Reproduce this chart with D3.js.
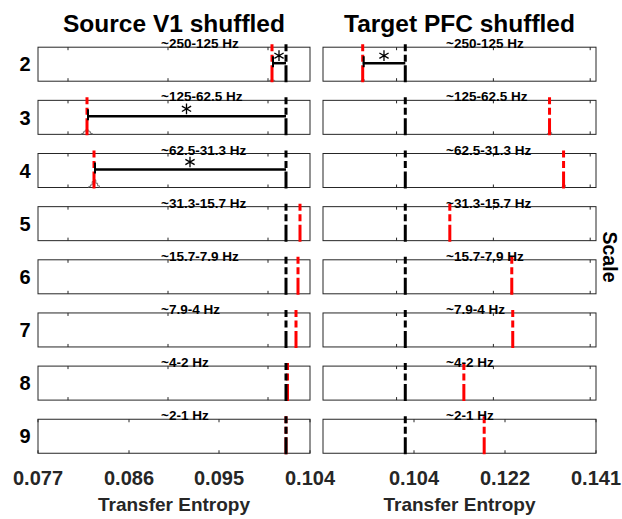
<!DOCTYPE html>
<html>
<head>
<meta charset="utf-8">
<script src="https://cdn.jsdelivr.net/npm/d3@7"></script>
<style>
  html, body { margin: 0; padding: 0; background: #fff; }
  svg { display: block; font-family: "Liberation Sans", Arial, sans-serif; }
</style>
</head>
<body>
<svg id="chart" width="622" height="519"></svg>
<script>
// ---------------- data ----------------
const scales = [2, 3, 4, 5, 6, 7, 8, 9];
const bands = ["~250-125 Hz", "~125-62.5 Hz", "~62.5-31.3 Hz", "~31.3-15.7 Hz",
               "~15.7-7.9 Hz", "~7.9-4 Hz", "~4-2 Hz", "~2-1 Hz"];
const columnTitles = ["Source V1 shuffled", "Target PFC shuffled"];
const observedTE = [0.1018, 0.1018];
const sourceShuffledMean = [0.1004, 0.0819, 0.0826, 0.1032, 0.1030, 0.1028, 0.10195, 0.1018];
const targetShuffledMean = [0.0930, 0.1316, 0.1345, 0.1110, 0.1238, 0.1240, 0.1139, 0.1181];
const sourceSignificant = [true, true, true, false, false, false, false, false];
const targetSignificant = [true, false, false, false, false, false, false, false];
// tiny shuffled distributions (counts per bin) drawn at panel bottom
const sourceHist = [[1, 2, 1], [1, 3, 5, 5, 3, 1], [1, 3, 7, 9, 5, 2], null, null, null, null, null];
const targetHist = [[1, 3, 2], [1, 4, 5, 2], [1, 4, 3], null, [1, 3, 1], null, null, null];
const histBinWidth = [0.00018, 0.00022];
const histMaxCount = 40;
const xDomains = [[0.077, 0.1042], [0.0848, 0.1412]];
const topTicks = [[0.08, 0.09, 0.10], [0.10, 0.12, 0.14]];
const bottomTicks = [[0.077, 0.0861, 0.0951, 0.1042], [0.1036, 0.1224, 0.1412]];
const bottomTickLabels = [["0.077", "0.086", "0.095", "0.104"], ["0.104", "0.122", "0.141"]];
const xAxisLabel = "Transfer Entropy";
const yAxisLabel = "Scale";

// ---------------- layout ----------------
const svg = d3.select("#chart");
const colRanges = [[38, 310], [323, 596]];
const panelTop0 = 47.2, panelPitch = 53.15, panelH = 34;
const RED = "#ff0000", AX = "#262626";

const yBand = i => panelTop0 + i * panelPitch;

const columns = [
  { shuffled: sourceShuffledMean, sig: sourceSignificant, hist: sourceHist },
  { shuffled: targetShuffledMean, sig: targetSignificant, hist: targetHist }
];

columns.forEach((col, c) => {
  const x = d3.scaleLinear().domain(xDomains[c]).range(colRanges[c]);
  const hy = d3.scaleLinear().domain([0, histMaxCount]).range([0, panelH]);
  const g = svg.append("g");

  // column title
  g.append("text")
    .attr("x", (colRanges[c][0] + colRanges[c][1]) / 2)
    .attr("y", 31.5)
    .attr("text-anchor", "middle")
    .attr("font-size", 24.5).attr("font-weight", "bold").attr("fill", "#000")
    .text(columnTitles[c]);

  scales.forEach((s, i) => {
    const top = yBand(i), bot = top + panelH;
    const p = g.append("g");
    const isLast = i === scales.length - 1;
    const ticks = isLast ? bottomTicks[c] : topTicks[c];

    // panel box
    p.append("rect")
      .attr("x", colRanges[c][0]).attr("y", top)
      .attr("width", colRanges[c][1] - colRanges[c][0]).attr("height", panelH)
      .attr("fill", "#fff").attr("stroke", AX).attr("stroke-width", 1);

    // inward ticks top & bottom
    ticks.forEach(t => {
      const xx = x(t);
      p.append("line").attr("x1", xx).attr("x2", xx).attr("y1", bot).attr("y2", bot - 3)
        .attr("stroke", AX).attr("stroke-width", 1);
      p.append("line").attr("x1", xx).attr("x2", xx).attr("y1", top).attr("y2", top + 3)
        .attr("stroke", AX).attr("stroke-width", 1);
    });

    // histogram of shuffled distribution
    const h = col.hist[i];
    if (h) {
      const bw = histBinWidth[c];
      const start = col.shuffled[i] - (h.length * bw) / 2;
      let d = `M${x(start)},${bot}`;
      h.forEach((cnt, k) => {
        const x0 = x(start + k * bw), x1 = x(start + (k + 1) * bw);
        d += `L${x0},${bot - hy(cnt)}L${x1},${bot - hy(cnt)}`;
      });
      d += `L${x(start + h.length * bw)},${bot}`;
      p.append("path").attr("d", d).attr("fill", "none")
        .attr("stroke", "#6e6e6e").attr("stroke-width", 1);
    }

    // red dashed (shuffled mean)
    p.append("line")
      .attr("x1", x(col.shuffled[i])).attr("x2", x(col.shuffled[i]))
      .attr("y1", top - 3).attr("y2", bot + 1)
      .attr("stroke", RED).attr("stroke-width", 3)
      .attr("stroke-dasharray", "7,3.5,7,3.5,40");

    // black dashed (observed)
    p.append("line")
      .attr("x1", x(observedTE[c])).attr("x2", x(observedTE[c]))
      .attr("y1", top - 3).attr("y2", bot + 1)
      .attr("stroke", "#000").attr("stroke-width", 3)
      .attr("stroke-dasharray", "7,3.5,7,3.5,40");

    // significance bracket + asterisk
    if (col.sig[i]) {
      const xa = x(col.shuffled[i]), xb = x(observedTE[c]);
      const yb = top + 16;
      p.append("line").attr("x1", xa).attr("x2", xb).attr("y1", yb).attr("y2", yb)
        .attr("stroke", "#000").attr("stroke-width", 2.5);
      p.append("line").attr("x1", xa + 1).attr("x2", xa + 1).attr("y1", yb - 7).attr("y2", yb + 4)
        .attr("stroke", "#000").attr("stroke-width", 2);
      p.append("path")
        .attr("d", d3.symbol(d3.symbolAsterisk, 80)())
        .attr("transform", `translate(${(xa + xb) / 2},${top + 8.5})`)
        .attr("fill", "none").attr("stroke", "#000").attr("stroke-width", 1.3);
    }

    // band subtitle
    p.append("text")
      .attr("x", colRanges[c][0] + 123).attr("y", top + 1)
      .attr("font-size", 13.5).attr("font-weight", "bold").attr("fill", "#000")
      .text(bands[i]);

    // scale label (left column only)
    if (c === 0) {
      p.append("text")
        .attr("x", 25).attr("y", top + panelH / 2)
        .attr("dy", "0.36em")
        .attr("text-anchor", "middle")
        .attr("font-size", 20).attr("font-weight", "bold").attr("fill", "#000")
        .text(s);
    }

    // bottom tick labels
    if (isLast) {
      ticks.forEach((t, k) => {
        p.append("text")
          .attr("x", x(t)).attr("y", 484.5)
          .attr("text-anchor", "middle")
          .attr("font-size", 20).attr("font-weight", "bold").attr("fill", "#262626")
          .text(bottomTickLabels[c][k]);
      });
    }
  });

  // x axis label
  g.append("text")
    .attr("x", (colRanges[c][0] + colRanges[c][1]) / 2)
    .attr("y", 511)
    .attr("text-anchor", "middle")
    .attr("font-size", 19).attr("font-weight", "bold").attr("fill", "#262626")
    .text(xAxisLabel);
});

// right-side "Scale" label
svg.append("text")
  .attr("transform", "translate(603,257) rotate(90)")
  .attr("text-anchor", "middle")
  .attr("font-size", 19.5).attr("font-weight", "bold").attr("fill", "#000")
  .text(yAxisLabel);
</script>
</body>
</html>
